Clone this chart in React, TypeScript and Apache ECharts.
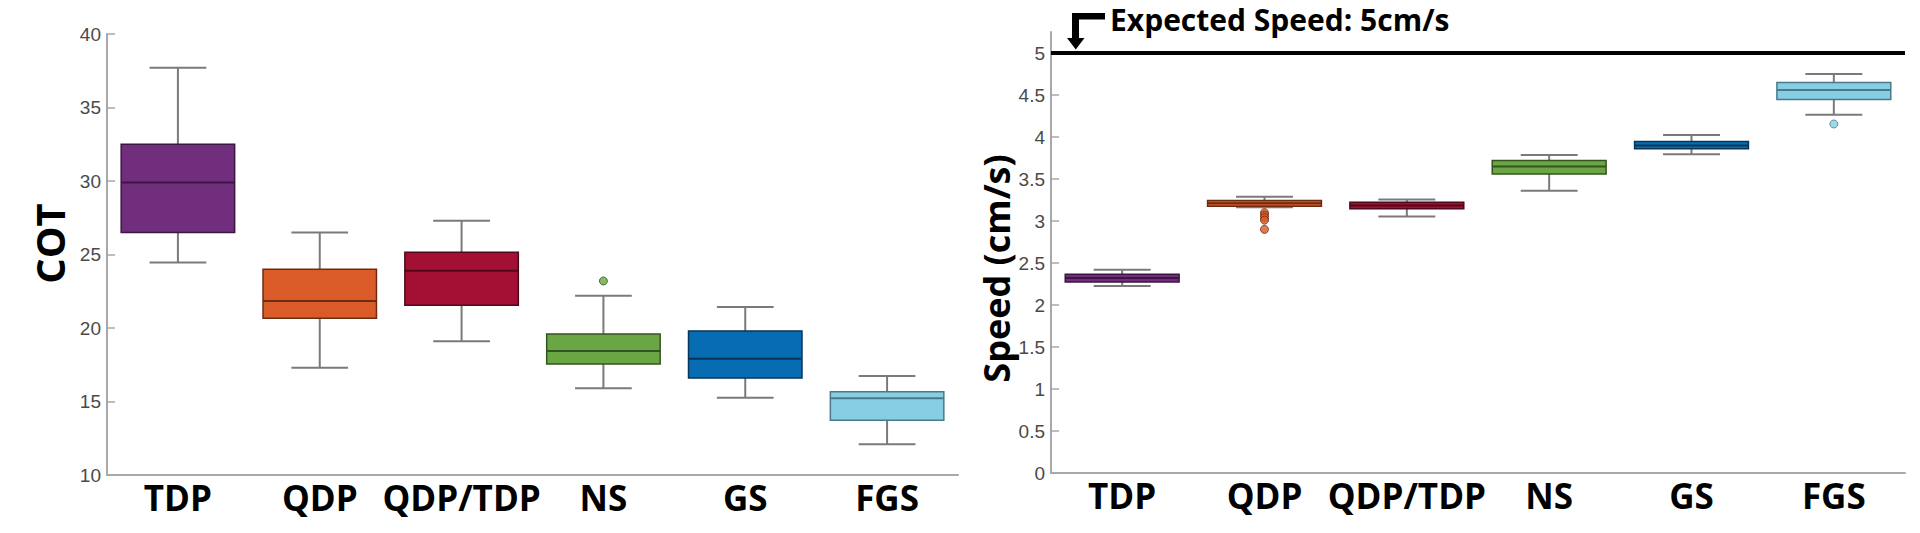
import React, { useEffect, useRef } from "react";
import * as echarts from "echarts";

const CATEGORIES = ["TDP", "QDP", "QDP/TDP", "NS", "GS", "FGS"];
const FILL_COLORS = ["#712E7C", "#DA5B27", "#A31033", "#6AA744", "#086CB3", "#86CEE3"];
const BORDER_COLORS = ["#3C1642", "#6A2C12", "#50081A", "#34541F", "#05365A", "#4A7A8A"];

// [min, Q1, median, Q3, max]
const COT_BOXES = [
  [24.45, 26.5, 29.9, 32.5, 37.7],
  [17.3, 20.66, 21.84, 24.0, 26.5],
  [19.1, 21.54, 23.9, 25.15, 27.3],
  [15.9, 17.55, 18.44, 19.6, 22.2],
  [15.26, 16.6, 17.9, 19.8, 21.43],
  [12.09, 13.72, 15.22, 15.67, 16.73],
];
const COT_OUTLIERS: [number, number][] = [[3, 23.2]];

const SPEED_BOXES = [
  [2.225, 2.275, 2.32, 2.365, 2.42],
  [3.165, 3.176, 3.21, 3.243, 3.29],
  [3.055, 3.146, 3.184, 3.223, 3.255],
  [3.36, 3.56, 3.65, 3.72, 3.785],
  [3.795, 3.86, 3.9, 3.945, 4.025],
  [4.265, 4.445, 4.56, 4.65, 4.75],
];
const SPEED_OUTLIERS: [number, number][] = [
  [1, 3.1],
  [1, 3.07],
  [1, 3.04],
  [1, 3.01],
  [1, 2.9],
  [5, 4.155],
];
const COT_TICKS = [10, 15, 20, 25, 30, 35, 40];
const SPEED_TICKS = [0, 0.5, 1, 1.5, 2, 2.5, 3, 3.5, 4, 4.5, 5];
const EXPECTED_SPEED = 5;
const ANNOTATION = "Expected Speed: 5cm/s";

const AXIS_GRAY = "#A8A8A8";
const WHISKER = "#7A7A7A";
const BOLD_FONT = "'Open Sans', 'DejaVu Sans', sans-serif";
const TICK_FONT = "'Liberation Sans', Arial, sans-serif";

function boxData(boxes: number[][]) {
  return boxes.map((b, i) => [i, ...b]);
}

function renderBox(params: any, api: any) {
  const idx = api.value(0);
  const lo = api.coord([idx, api.value(1)]);
  const q1 = api.coord([idx, api.value(2)]);
  const md = api.coord([idx, api.value(3)]);
  const q3 = api.coord([idx, api.value(4)]);
  const hi = api.coord([idx, api.value(5)]);
  const band = api.size([1, 0])[0];
  const bw = band * 0.8;
  const cw = bw / 2;
  const cx = md[0];
  const wStyle = { stroke: WHISKER, lineWidth: 2 };
  return {
    type: "group",
    children: [
      { type: "line", shape: { x1: cx, y1: hi[1], x2: cx, y2: q3[1] }, style: wStyle },
      { type: "line", shape: { x1: cx, y1: q1[1], x2: cx, y2: lo[1] }, style: wStyle },
      { type: "line", shape: { x1: cx - cw / 2, y1: hi[1], x2: cx + cw / 2, y2: hi[1] }, style: wStyle },
      { type: "line", shape: { x1: cx - cw / 2, y1: lo[1], x2: cx + cw / 2, y2: lo[1] }, style: wStyle },
      {
        type: "rect",
        shape: { x: cx - bw / 2, y: q3[1], width: bw, height: Math.max(q1[1] - q3[1], 1) },
        style: { fill: FILL_COLORS[idx], stroke: BORDER_COLORS[idx], lineWidth: 1.5 },
      },
      {
        type: "line",
        shape: { x1: cx - bw / 2, y1: md[1], x2: cx + bw / 2, y2: md[1] },
        style: { stroke: BORDER_COLORS[idx], lineWidth: 2 },
      },
    ],
  };
}

function xAxisCfg(gridIndex: number) {
  return {
    type: "category",
    gridIndex,
    data: CATEGORIES,
    boundaryGap: true,
    axisLine: { lineStyle: { color: AXIS_GRAY, width: 2 } },
    axisTick: { alignWithLabel: true, inside: true, length: 8, lineStyle: { color: AXIS_GRAY, width: 1.5 } },
    axisLabel: {
      interval: 0,
      hideOverlap: false,
      color: "#000",
      fontFamily: BOLD_FONT,
      fontWeight: "bold",
      fontSize: 35,
      margin: 5,
    },
    splitLine: { show: false },
  };
}

export default function App() {
  const ref = useRef<HTMLDivElement>(null);
  useEffect(() => {
    if (!ref.current) return;
    const chart = echarts.init(ref.current, undefined, { renderer: "svg" });
    const outlierItem = (d: [number, number]) => ({
      value: d,
      itemStyle: { color: FILL_COLORS[d[0]], borderColor: BORDER_COLORS[d[0]], borderWidth: 1 },
    });
    chart.setOption({
      animation: false,
      backgroundColor: "#fff",
      grid: [
        { left: 107, top: 34, width: 851, height: 441 },
        { left: 1051, top: 32, width: 854, height: 441 },
      ],
      xAxis: [xAxisCfg(0), xAxisCfg(1)],
      yAxis: [
        {
          type: "value",
          gridIndex: 0,
          min: 10,
          max: 40,
          interval: 5,
          name: "COT",
          nameLocation: "middle",
          nameGap: 38,
          nameRotate: 90,
          nameTextStyle: { color: "#000", fontFamily: BOLD_FONT, fontWeight: "bold", fontSize: 40, padding: [0, 0, 0, 22] },
          axisLine: { show: true, lineStyle: { color: AXIS_GRAY, width: 2 } },
          axisTick: { show: true, inside: true, length: 8, lineStyle: { color: AXIS_GRAY, width: 1.5 } },
          axisLabel: { color: "#4A4A4A", fontFamily: TICK_FONT, fontSize: 19, margin: 6, customValues: COT_TICKS },
          splitLine: { show: false },
        },
        {
          type: "value",
          gridIndex: 1,
          min: 0,
          max: 5.25,
          interval: 0.5,
          name: "Speed (cm/s)",
          nameLocation: "middle",
          nameGap: 36,
          nameRotate: 90,
          nameTextStyle: { color: "#000", fontFamily: BOLD_FONT, fontWeight: "bold", fontSize: 36, padding: [0, 32, 0, 0] },
          axisLine: { show: true, lineStyle: { color: AXIS_GRAY, width: 2 } },
          axisTick: { show: true, inside: true, length: 8, lineStyle: { color: AXIS_GRAY, width: 1.5 }, customValues: SPEED_TICKS },
          axisLabel: { color: "#4A4A4A", fontFamily: TICK_FONT, fontSize: 19, margin: 6, customValues: SPEED_TICKS },
          splitLine: { show: false },
        },
      ],
      series: [
        {
          type: "custom",
          name: "COT",
          xAxisIndex: 0,
          yAxisIndex: 0,
          renderItem: renderBox,
          encode: { x: 0, y: [1, 2, 3, 4, 5] },
          data: boxData(COT_BOXES),
          z: 2,
        },
        {
          type: "scatter",
          xAxisIndex: 0,
          yAxisIndex: 0,
          symbol: "circle",
          symbolSize: 8,
          data: COT_OUTLIERS.map(outlierItem),
          z: 3,
        },
        {
          type: "custom",
          name: "Speed",
          xAxisIndex: 1,
          yAxisIndex: 1,
          renderItem: renderBox,
          encode: { x: 0, y: [1, 2, 3, 4, 5] },
          data: boxData(SPEED_BOXES),
          z: 2,
          markLine: {
            silent: true,
            symbol: "none",
            label: { show: false },
            lineStyle: { color: "#000", width: 4, type: "solid" },
            data: [{ yAxis: EXPECTED_SPEED }],
          },
        },
        {
          type: "scatter",
          xAxisIndex: 1,
          yAxisIndex: 1,
          symbol: "circle",
          symbolSize: 8,
          data: SPEED_OUTLIERS.map(outlierItem),
          z: 3,
        },
      ],
      graphic: [
        {
          type: "polygon",
          shape: {
            points: [
              [1105, 13],
              [1072, 13],
              [1072, 38],
              [1067, 38],
              [1075.75, 49.5],
              [1084.5, 38],
              [1079, 38],
              [1079, 19.5],
              [1105, 19.5],
            ],
          },
          style: { fill: "#000" },
        },
        {
          type: "text",
          x: 1110,
          y: 4,
          style: {
            text: ANNOTATION,
            fill: "#000",
            font: `bold 30px ${BOLD_FONT}`,
          },
        },
      ],
    });
    return () => chart.dispose();
  }, []);
  return <div ref={ref} style={{ position: "absolute", left: 0, top: 0, width: 1920, height: 533 }} />;
}
